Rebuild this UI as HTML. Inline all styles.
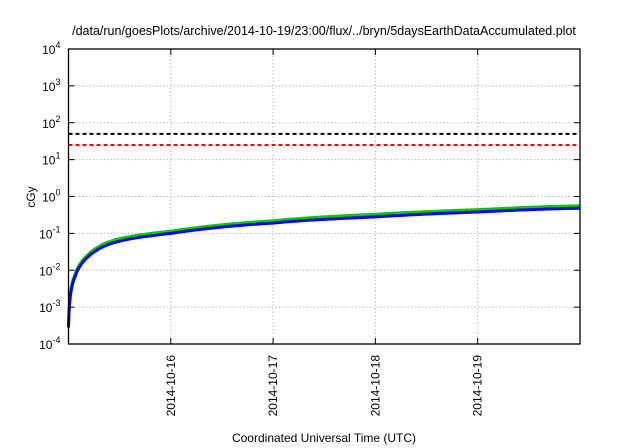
<!DOCTYPE html>
<html><head><meta charset="utf-8"><style>
body{margin:0;background:#fff;}
svg{display:block;font-family:"Liberation Sans",sans-serif;}
</style></head><body>
<svg width="640" height="448" viewBox="0 0 640 448">
<rect width="640" height="448" fill="#fff"/>
<text x="324" y="35" font-size="12.5" text-anchor="middle">/data/run/goesPlots/archive/2014-10-19/23:00/flux/../bryn/5daysEarthDataAccumulated.plot</text>
<g id="grid"></g>
<g id="ticks"></g>
<g id="series"></g>
<rect x="68.5" y="49" width="511.5" height="295" fill="none" stroke="#000" stroke-width="1.3"/>
<text transform="translate(35,197) rotate(-90)" font-size="12" text-anchor="middle">cGy</text>
<text x="324" y="442" font-size="12" text-anchor="middle">Coordinated Universal Time (UTC)</text>
</svg>
<script>
const xTickLabels=["2014-10-16","2014-10-17","2014-10-18","2014-10-19"];
const xTickDays=[1,2,3,4];
const yDecades=[-4,-3,-2,-1,0,1,2,3,4];
const days=[0,0.015,0.064,0.16,0.41,1,2,3,4,5];
const blueVals=[0.00028,0.0016,0.0066,0.019,0.052,0.1,0.19,0.28,0.38,0.48];
const greenVals=[0.00032,0.0019,0.0078,0.022,0.061,0.115,0.22,0.33,0.44,0.56];
const thresholdBlack=50, thresholdRed=25;
const L=68.5,R=580,T=49,B=344;
const sx=d=>L+(R-L)*d/5;
const sy=v=>T+(B-T)*(4-Math.log10(v))/8;
const NS="http://www.w3.org/2000/svg";
function mk(tag,attrs,parent){const e=document.createElementNS(NS,tag);for(const k in attrs)e.setAttribute(k,attrs[k]);document.getElementById(parent).appendChild(e);return e;}
yDecades.forEach(p=>{
  const y=sy(Math.pow(10,p));
  if(p>-4&&p<4){const g=mk('line',{x1:L,x2:R,y1:y,y2:y,stroke:'#bbb','stroke-dasharray':'1.5,2','stroke-width':1},'grid');
  }
  mk('line',{x1:L,x2:L+6,y1:y,y2:y,stroke:'#000'},'ticks');
  mk('line',{x1:R-6,x2:R,y1:y,y2:y,stroke:'#000'},'ticks');
  const t=mk('text',{x:L-8,y:y+5,'font-size':12,'text-anchor':'end'},'ticks');
  
  t.innerHTML='10<tspan dy="-6" font-size="9">'+p+'</tspan>';
});
xTickDays.forEach((d,i)=>{
  const x=sx(d);
  const g=mk('line',{x1:x,x2:x,y1:T,y2:B,stroke:'#bbb','stroke-dasharray':'1.5,2'},'grid');
  
  mk('line',{x1:x,x2:x,y1:B-6,y2:B,stroke:'#000'},'ticks');
  mk('line',{x1:x,x2:x,y1:T,y2:T+6,stroke:'#000'},'ticks');
  const t=mk('text',{transform:`translate(${x+4},${B+11}) rotate(-90)`,'font-size':12,'text-anchor':'end'},'ticks');
  
  t.textContent=xTickLabels[i];
});
const hb=mk('line',{x1:L,x2:R,y1:sy(thresholdBlack),y2:sy(thresholdBlack),stroke:'#000','stroke-width':2,'stroke-dasharray':'4,3'},'series');

const hr=mk('line',{x1:L,x2:R,y1:sy(thresholdRed),y2:sy(thresholdRed),stroke:'#f00','stroke-width':2,'stroke-dasharray':'4,3'},'series');

const lt=t=>Math.log10(t+0.003);
function valAt(vals,t){
  const u=lt(t);const us=days.map(lt);const ls=vals.map(v=>Math.log10(v));
  let j=0;while(j<us.length-2&&u>us[j+1])j++;
  const p0=ls[Math.max(j-1,0)],p1=ls[j],p2=ls[j+1],p3=ls[Math.min(j+2,ls.length-1)];
  const f=(u-us[j])/(us[j+1]-us[j]);
  const f2=f*f,f3=f2*f;
  const y=0.5*((2*p1)+(-p0+p2)*f+(2*p0-5*p1+4*p2-p3)*f2+(-p0+3*p1-3*p2+p3)*f3);
  return Math.pow(10,y);
}
function path(vals){let d='';const N=400;for(let i=0;i<=N;i++){const t=5*Math.pow(i/N,2);
 d+=(i?'L':'M')+sx(t).toFixed(2)+','+sy(valAt(vals,t)).toFixed(2);}return d;}
const pg=mk('path',{d:path(greenVals),fill:'none',stroke:'#0c0','stroke-width':3,'stroke-linejoin':'round'},'series');

const pb=mk('path',{d:path(blueVals),fill:'none',stroke:'#00f','stroke-width':3,'stroke-linejoin':'round'},'series');

</script>
</body></html>
